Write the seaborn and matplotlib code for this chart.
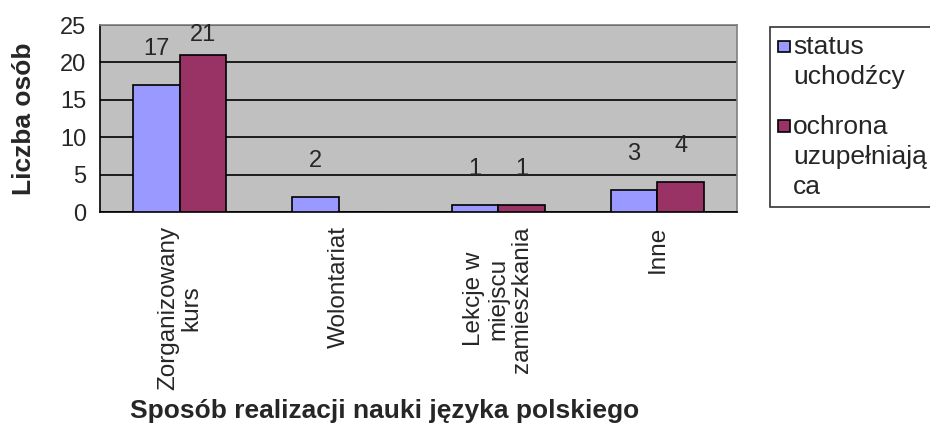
import matplotlib.pyplot as plt
import seaborn as sns
import pandas as pd
from matplotlib.patches import Rectangle
from matplotlib.legend_handler import HandlerPatch

# Data
categories = ["Zorganizowany\nkurs", "Wolontariat", "Lekcje w\nmiejscu\nzamieszkania", "Inne"]
series_names = ["status\nuchodźcy", "ochrona\nuzupełniają\nca"]
status_uchodzcy = [17, 2, 1, 3]
ochrona_uzupelniajaca = [21, 0, 1, 4]

df = pd.DataFrame({
    "Kategoria": categories * 2,
    "Seria": [series_names[0]] * 4 + [series_names[1]] * 4,
    "Liczba": status_uchodzcy + ochrona_uzupelniajaca,
})

sns.set_style("white")
plt.rcParams["font.family"] = ["Liberation Sans", "DejaVu Sans"]

fig = plt.figure(figsize=(9.3, 4.32), dpi=100)
ax = fig.add_axes([0.1075, 0.509, 0.685, 0.433])
ax.set_facecolor("#C0C0C0")

sns.barplot(
    data=df, x="Kategoria", y="Liczba", hue="Seria",
    palette=["#9999FF", "#993366"], width=0.585,
    edgecolor="black", linewidth=1.2, saturation=1, ax=ax, zorder=3,
)

ax.set_ylim(0, 25)
ax.set_xlim(-0.5, 3.5)
ax.set_yticks(range(0, 26, 5))
ax.yaxis.grid(True, color="black", linewidth=1.2, zorder=1)
ax.set_axisbelow(True)

# value labels above the bars
for container, vals in zip(ax.containers, [status_uchodzcy, ochrona_uzupelniajaca]):
    for patch, v in zip(container, vals):
        if v == 0:
            continue
        y = min(v + 4.8, 23.7)
        ax.text(patch.get_x() + patch.get_width() / 2, y, str(v),
                ha="center", va="center", fontsize=17, zorder=4)

# ticks between categories
ax.tick_params(axis="x", which="major", length=0, labelsize=17.5, pad=10)
ax.set_xticks([-0.5, 0.5, 1.5, 2.5, 3.5], minor=True)
ax.tick_params(axis="x", which="minor", length=8, width=1.2, direction="out", color="black")
ax.tick_params(axis="y", length=8, width=1.2, direction="out", color="black", labelsize=17, pad=2)
for lbl in ax.get_xticklabels():
    lbl.set_rotation(90)
    lbl.set_ha("center")
    lbl.set_va("top")
    lbl.set_multialignment("center")
    lbl.set_linespacing(1.1)

for side in ["left", "bottom"]:
    ax.spines[side].set_color("black")
    ax.spines[side].set_linewidth(1.2)
for side in ["top", "right"]:
    ax.spines[side].set_color("#808080")
    ax.spines[side].set_linewidth(1.2)

ax.set_ylabel("Liczba osób", fontsize=19, fontweight="bold")
ax.yaxis.set_label_coords(-0.10, 0.5)
ax.set_xlabel("Sposób realizacji nauki języka polskiego", fontsize=19, fontweight="bold")
ax.xaxis.set_label_coords(0.447, -1.0)

# legend: marker aligned with the first line of each multi-line label
leg_fs = 19
leg_ls = 1.33
line_h = leg_fs * leg_ls * 0.9


def make_top_patch(n_lines):
    def patch_func(legend, orig_handle, xdescent, ydescent, width, height, fontsize):
        s = fontsize * 0.45
        y0 = -ydescent + (n_lines - 1) * line_h / 2 + 0.12 * fontsize
        return Rectangle((-xdescent, y0), s, s)
    return HandlerPatch(patch_func=patch_func)


handles, labels = ax.get_legend_handles_labels()
ax.get_legend().remove()
handler_map = {h: make_top_patch(lab.count("\n") + 1) for h, lab in zip(handles, labels)}
leg = fig.legend(handles, labels, loc="upper left", bbox_to_anchor=(0.828, 0.938),
                 fontsize=leg_fs, frameon=True, fancybox=False, edgecolor="black",
                 handlelength=0.45, handleheight=0.7, handletextpad=0.12,
                 labelspacing=0.98, borderpad=0.3, borderaxespad=0,
                 handler_map=handler_map)
leg.get_frame().set_linewidth(1.2)
for t in leg.get_texts():
    t.set_linespacing(leg_ls)

fig.savefig("out.png", dpi=100)
